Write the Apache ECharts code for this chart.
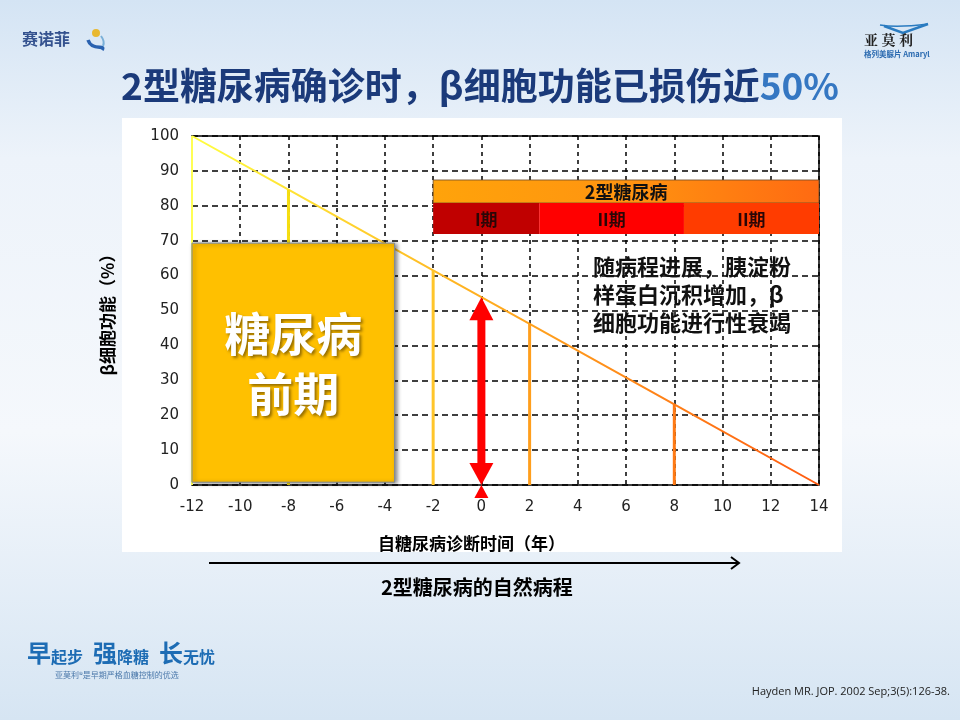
<!DOCTYPE html>
<html><head><meta charset="utf-8">
<script src="https://cdn.jsdelivr.net/npm/echarts@6/dist/echarts.min.js"></script>
<style>html,body{margin:0;padding:0;background:#fff;}#c{width:960px;height:720px;}</style>
</head><body><div id="c"></div>
<script>
// ---- data ----
const xMin = -12, xMax = 14, xStep = 2;
const yMin = 0, yMax = 100, yStep = 10;
const lineYears = [-12, -8, -2, 0, 2, 8, 14];
const lineValues = [100, 84.6, 61.5, 53.8, 46.2, 23.1, 0];
const dropYears = [-12, -8, -2, 2, 8];
const dropValues = [100, 84.6, 61.5, 46.2, 23.1];
const prediabetesRange = [-12, -3.6];
const prediabetesTop = 69.3;
const prediabetesLabel = '糖尿病\n前期';
const diabetesRange = [-2, 14];
const diabetesLabel = '2型糖尿病';
const bandLevels = [71.9, 80.8, 87.4];
const stageNames = ['I期', 'II期', 'II期'];
const stageStarts = [-2, 2.4, 8.4];
const stageEnds = [2.4, 8.4, 14];
const diagnosisYear = 0;
const diagnosisFunction = 53.8;
const noteText = '随病程进展，胰淀粉\n样蛋白沉积增加，β\n细胞功能进行性衰竭';

// ---- styles ----
const dropColors = ['#FFFF55', '#F6DE10', '#FFC52A', '#FF9E1C', '#FF7A14'];
const dropWidths = [2, 3, 3, 3, 3];
const stageColors = ['#C00000', '#FF0000', '#FF3C00'];
const CJK = '"Noto Sans CJK SC", "Noto Sans", sans-serif';

const chart = echarts.init(document.getElementById('c'), null, {renderer: 'canvas'});

const option = {
  animation: false,
  backgroundColor: {
    type: 'linear', x: 0, y: 0, x2: 0, y2: 1,
    colorStops: [
      {offset: 0, color: '#d4e4f4'},
      {offset: 0.22, color: '#edf3fa'},
      {offset: 0.6, color: '#f5f8fc'},
      {offset: 1, color: '#d6e5f3'}
    ]
  },
  grid: {
    left: 192, right: 141, top: 136, bottom: 235,
    show: true, borderColor: '#000', borderWidth: 1.5, backgroundColor: '#fff'
  },
  xAxis: {
    type: 'value', min: xMin, max: xMax, interval: xStep,
    axisLine: {show: false}, axisTick: {show: false},
    axisLabel: {color: '#222', fontSize: 15, fontFamily: '"DejaVu Sans", sans-serif', margin: 15},
    splitLine: {show: true, lineStyle: {color: '#000', width: 1.5, type: [4, 4]}}
  },
  yAxis: {
    type: 'value', min: yMin, max: yMax, interval: yStep,
    axisLine: {show: false}, axisTick: {show: false},
    axisLabel: {color: '#222', fontSize: 15, fontFamily: '"DejaVu Sans", sans-serif', margin: 13},
    splitLine: {show: true, lineStyle: {color: '#000', width: 1.5, type: [6, 4]}},
    name: 'β细胞功能（%）', nameLocation: 'middle', nameRotate: 90, nameGap: 76,
    nameTextStyle: {color: '#000', fontSize: 17, fontWeight: 'bold', fontFamily: CJK}
  },
  series: [
    {
      type: 'line', z: 3, showSymbol: false, silent: true,
      data: lineYears.map((x, i) => [x, lineValues[i]]),
      lineStyle: {
        width: 2,
        color: {type: 'linear', x: 0, y: 0, x2: 1, y2: 0, colorStops: [
          {offset: 0, color: '#FFFF40'},
          {offset: 0.45, color: '#FFB020'},
          {offset: 1, color: '#FF5A10'}
        ]}
      }
    },
    {
      type: 'custom', z: 4, silent: true,
      data: dropYears.map((x, i) => [x, dropValues[i], i]),
      encode: {x: 0, y: 1},
      renderItem: (params, api) => {
        const i = api.value(2);
        const p0 = api.coord([api.value(0), 0]);
        const p1 = api.coord([api.value(0), api.value(1)]);
        return {type: 'line', shape: {x1: p0[0], y1: p0[1], x2: p1[0], y2: p1[1]},
          style: {stroke: dropColors[i], lineWidth: dropWidths[i]}};
      }
    },
    {
      type: 'custom', z: 5, silent: true,
      data: [[prediabetesRange[0], prediabetesRange[1], prediabetesTop]],
      encode: {x: [0, 1], y: 2},
      renderItem: (params, api) => {
        const a = api.coord([api.value(0), prediabetesTop]);
        const b = api.coord([api.value(1), 0.8]);
        const cx = (a[0] + b[0]) / 2, cy = (a[1] + b[1]) / 2;
        return {type: 'group', children: [
          {type: 'rect', shape: {x: a[0], y: a[1], width: b[0] - a[0], height: b[1] - a[1]},
            style: {fill: '#FFC000', stroke: '#7f8a99', lineWidth: 1,
              shadowColor: 'rgba(0,0,0,0.45)', shadowBlur: 4, shadowOffsetX: 2, shadowOffsetY: 1}},
          {type: 'text', style: {text: prediabetesLabel, x: cx, y: cy + 1, align: 'center', verticalAlign: 'middle',
            fill: '#fff', fontSize: 46, fontWeight: 'bold', fontFamily: CJK, lineHeight: 60,
            textShadowColor: 'rgba(60,40,0,0.55)', textShadowBlur: 3, textShadowOffsetX: 2, textShadowOffsetY: 2}}
        ]};
      }
    },
    {
      type: 'custom', z: 6, silent: true,
      data: [[diabetesRange[0], diabetesRange[1]]],
      encode: {x: [0, 1]},
      renderItem: (params, api) => {
        const a = api.coord([api.value(0), bandLevels[2]]);
        const b = api.coord([api.value(1), bandLevels[1]]);
        return {type: 'group', children: [
          {type: 'rect', shape: {x: a[0], y: a[1], width: b[0] - a[0], height: b[1] - a[1]},
            style: {fill: {type: 'linear', x: 0, y: 0, x2: 1, y2: 0, colorStops: [
              {offset: 0, color: '#FFA30A'}, {offset: 0.5, color: '#FF9410'}, {offset: 1, color: '#FF6A12'}]},
              stroke: '#6a4a2a', lineWidth: 0.8}},
          {type: 'text', style: {text: diabetesLabel, x: (a[0] + b[0]) / 2, y: (a[1] + b[1]) / 2 + 1,
            align: 'center', verticalAlign: 'middle', fill: '#111', fontSize: 18, fontWeight: 'bold', fontFamily: CJK}}
        ]};
      }
    },
    {
      type: 'custom', z: 6, silent: true,
      data: stageStarts.map((s, i) => [s, stageEnds[i], i]),
      encode: {x: [0, 1]},
      renderItem: (params, api) => {
        const i = api.value(2);
        const a = api.coord([api.value(0), bandLevels[1]]);
        const b = api.coord([api.value(1), bandLevels[0]]);
        return {type: 'group', children: [
          {type: 'rect', shape: {x: a[0], y: a[1], width: b[0] - a[0], height: b[1] - a[1]},
            style: {fill: stageColors[i]}},
          {type: 'text', style: {text: stageNames[i], x: (a[0] + b[0]) / 2, y: (a[1] + b[1]) / 2 + 1,
            align: 'center', verticalAlign: 'middle', fill: '#2a0606', fontSize: 17, fontWeight: 'bold', fontFamily: CJK}}
        ]};
      }
    },
    {
      type: 'custom', z: 7, silent: true, clip: false,
      data: [[diagnosisYear, diagnosisFunction]],
      encode: {x: 0, y: 1},
      renderItem: (params, api) => {
        const t = api.coord([api.value(0), api.value(1)]);
        const b = api.coord([api.value(0), 0]);
        const x = t[0];
        const red = '#FF0000';
        return {type: 'group', children: [
          {type: 'rect', shape: {x: x - 4, y: t[1] + 18, width: 8, height: b[1] - t[1] - 36}, style: {fill: red}},
          {type: 'polygon', shape: {points: [[x, t[1]], [x - 12, t[1] + 23], [x + 12, t[1] + 23]]}, style: {fill: red}},
          {type: 'polygon', shape: {points: [[x, b[1]], [x - 12, b[1] - 22], [x + 12, b[1] - 22]]}, style: {fill: red}},
          {type: 'polygon', shape: {points: [[x, b[1]], [x - 7, b[1] + 13], [x + 7, b[1] + 13]]}, style: {fill: red}}
        ]};
      }
    }
  ],
  graphic: [
    {type: 'rect', z: -10, shape: {x: 122, y: 118, width: 720, height: 434}, style: {fill: '#ffffff'}},
    // title
    {type: 'text', left: 'center', top: 67, style: {
      text: '{a|2型糖尿病确诊时，β细胞功能已损伤近}{b|50%}',
      rich: {
        a: {fill: '#1B3A7A', fontSize: 37, fontWeight: 'bold', fontFamily: CJK},
        b: {fill: '#3577C2', fontSize: 37, fontWeight: 'bold', fontFamily: CJK}
      }
    }},
    // note
    {type: 'text', left: 593, top: 253, z: 10, style: {
      text: noteText, fill: '#111', fontSize: 22, fontWeight: 'bold', fontFamily: CJK, lineHeight: 28
    }},
    // x axis name
    {type: 'text', left: 378, top: 535, style: {
      text: '自糖尿病诊断时间（年）', fill: '#000', fontSize: 17, fontWeight: 'bold', fontFamily: CJK
    }},
    // black arrow
    {type: 'line', shape: {x1: 209, y1: 563, x2: 739, y2: 563}, style: {stroke: '#000', lineWidth: 2}},
    {type: 'polyline', shape: {points: [[731, 557], [739, 563], [731, 569]]}, style: {stroke: '#000', lineWidth: 2, fill: null}},
    {type: 'text', left: 381, top: 577, style: {
      text: '2型糖尿病的自然病程', fill: '#000', fontSize: 20, fontWeight: 'bold', fontFamily: CJK
    }},
    // top-left logo
    {type: 'text', left: 22, top: 31, style: {
      text: '赛诺菲', fill: '#34528f', fontSize: 16, fontWeight: 'bold', fontFamily: CJK
    }},
    {type: 'circle', shape: {cx: 96, cy: 33, r: 4}, style: {fill: '#e8b830'}},
    {type: 'bezierCurve', shape: {x1: 88, y1: 40, cpx1: 92, cpy1: 52, x2: 102, y2: 50, cpx2: 106, cpy2: 44},
      style: {stroke: '#2a62b0', lineWidth: 3.5, fill: null}},
    {type: 'bezierCurve', shape: {x1: 101, y1: 36, cpx1: 104, cpy1: 40, x2: 103, y2: 46, cpx2: 104, cpy2: 44},
      style: {stroke: '#7ab0d8', lineWidth: 2, fill: null}},
    // top-right logo
    {type: 'bezierCurve', shape: {x1: 880, y1: 25, cpx1: 892, cpy1: 27, x2: 928, y2: 24, cpx2: 912, cpy2: 26},
      style: {stroke: '#2a7bc0', lineWidth: 1.5, fill: null}},
    {type: 'polyline', shape: {points: [[884, 26], [903, 33], [928, 24]]}, style: {stroke: '#2a7bc0', lineWidth: 2.5, fill: null}},
    {type: 'text', left: 864, top: 33, style: {
      text: '亚 莫 利', fill: '#222', fontSize: 14, fontWeight: 'bold', fontFamily: '"Noto Serif CJK SC", "Noto Sans CJK SC", serif'
    }},
    {type: 'text', left: 864, top: 50, style: {
      text: '格列美脲片 Amaryl', fill: '#2a6ab0', fontSize: 7.5, fontWeight: 'bold', fontFamily: CJK
    }},
    // bottom-left slogan
    {type: 'text', left: 27, top: 641, style: {
      text: '{b|早}{s|起步}   {b|强}{s|降糖}   {b|长}{s|无忧}',
      rich: {
        b: {fill: '#1d6cb4', fontSize: 24, fontWeight: 'bold', fontFamily: CJK, verticalAlign: 'bottom'},
        s: {fill: '#1d6cb4', fontSize: 16, fontWeight: 'bold', fontFamily: CJK, verticalAlign: 'bottom'}
      }
    }},
    {type: 'text', left: 55, top: 671, style: {
      text: '亚莫利®是早期严格血糖控制的优选', fill: '#4a78aa', fontSize: 8, fontFamily: CJK
    }},
    // citation
    {type: 'text', right: 10, top: 686, style: {
      text: 'Hayden MR. JOP. 2002 Sep;3(5):126-38.', fill: '#222', fontSize: 11,
      fontFamily: '"Liberation Sans Narrow", "Open Sans", sans-serif'
    }}
  ]
};
chart.setOption(option);
</script>
</body></html>
